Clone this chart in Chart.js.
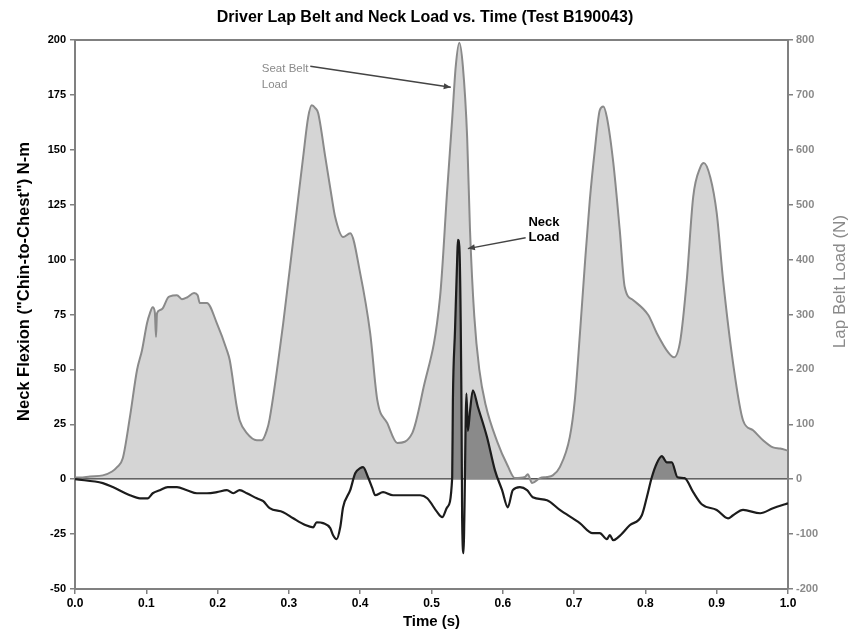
<!DOCTYPE html>
<html><head><meta charset="utf-8">
<script src="https://cdn.jsdelivr.net/npm/chart.js@4.4.1/dist/chart.umd.min.js"></script>
<style>html,body{margin:0;padding:0;background:#fff}#wrap{width:850px;height:637px}</style>
</head><body><div id="wrap"><canvas id="c" width="850" height="637"></canvas></div>
<script>
// ---- data ----
const tBelt = [0,0.007,0.021,0.039,0.052,0.059,0.067,0.077,0.087,0.094,0.101,0.105,0.109,0.112,0.1136,0.115,0.119,0.123,0.130,0.133,0.143,0.150,0.157,0.167,0.172,0.175,0.185,0.199,0.213,0.217,0.227,0.231,0.241,0.255,0.262,0.269,0.273,0.292,0.306,0.320,0.327,0.332,0.337,0.341,0.351,0.360,0.365,0.376,0.386,0.400,0.414,0.424,0.438,0.452,0.473,0.488,0.512,0.522,0.529,0.534,0.539,0.544,0.550,0.554,0.560,0.567,0.576,0.592,0.607,0.617,0.631,0.635,0.641,0.652,0.662,0.670,0.680,0.694,0.701,0.708,0.715,0.722,0.729,0.736,0.741,0.746,0.755,0.764,0.771,0.783,0.804,0.816,0.832,0.840,0.849,0.858,0.867,0.877,0.882,0.891,0.900,0.909,0.923,0.937,0.951,0.965,0.979,0.989,1.0];
const beltLoad = [3,3,5,7,14,22,38,113,199,235,284,302,313,304,259,302,308,311,330,333,335,328,331,339,335,321,321,284,235,217,131,107,84,71,71,89,110,284,435,587,659,681,676,667,587,514,477,441,448,375,266,144,102,66,84,162,332,526,656,752,795,752,623,454,297,200,135,69,24,2,4,9,-7,2,4,7,22,77,144,262,390,508,599,672,679,659,576,454,350,326,299,266,231,222,253,362,514,568,576,550,485,362,211,107,89,71,58,56,52];
const tNeck = [0,0.039,0.053,0.077,0.091,0.102,0.109,0.119,0.130,0.143,0.157,0.171,0.185,0.199,0.213,0.222,0.231,0.241,0.255,0.264,0.273,0.292,0.306,0.323,0.334,0.339,0.348,0.358,0.362,0.367,0.372,0.376,0.386,0.393,0.400,0.404,0.411,0.417,0.421,0.432,0.446,0.484,0.494,0.508,0.515,0.522,0.529,0.530,0.533,0.536,0.537,0.539,0.542,0.543,0.545,0.546,0.549,0.551,0.554,0.558,0.565,0.578,0.589,0.599,0.607,0.614,0.624,0.634,0.642,0.662,0.680,0.708,0.726,0.736,0.746,0.750,0.755,0.762,0.778,0.795,0.802,0.809,0.816,0.823,0.830,0.837,0.845,0.855,0.867,0.879,0.900,0.916,0.923,0.937,0.961,0.979,0.996,1.0];
const neckLoad = [0,-1.8,-3.6,-7.3,-8.7,-8.7,-6.4,-5.0,-3.6,-3.6,-5.0,-6.4,-6.4,-5.9,-5.0,-6.4,-5.0,-6.4,-8.7,-10,-13.2,-15,-17.8,-20.9,-21.9,-19.6,-20,-22.3,-25.5,-27.3,-21.9,-12.8,-5,2.7,5,5.5,0.9,-4.1,-7.3,-5.9,-7.3,-7.3,-8.7,-15,-17.3,-12.8,0.5,36,68,100,109,106,36,-19,-33.7,-19,39,22,31,40.5,33,19,4,-5,-12.8,-5,-3.6,-5,-8.2,-9.6,-14,-20,-24.6,-24.6,-27.3,-25.5,-27.8,-26.4,-21,-16.4,-8.2,0.9,7.3,10.5,7.7,7.7,0.9,0.5,-5.9,-11.4,-14,-17.8,-16.4,-14,-15.5,-13.2,-11.4,-11];
const xTickValues = [0,0.1,0.2,0.3,0.4,0.5,0.6,0.7,0.8,0.9,1.0];
const chartTitle = 'Driver Lap Belt and Neck Load vs. Time (Test B190043)';
const leftTitle = 'Neck Flexion ("Chin-to-Chest") N-m';
const rightTitle = 'Lap Belt Load (N)';
const xTitle = 'Time (s)';

const FONT = '"Liberation Sans", Arial, sans-serif';

const beltPts = tBelt.map((t,i)=>({x:t,y:beltLoad[i]}));
const neckPts = tNeck.map((t,i)=>({x:t,y:neckLoad[i]}));

const extras = {
  id:'extras',
  afterDraw(chart, args, opts){
    const {ctx, chartArea:a, scales} = chart;
    ctx.save();
    // top box line
    ctx.strokeStyle='#808080'; ctx.lineWidth=2;
    ctx.beginPath(); ctx.moveTo(a.left, a.top); ctx.lineTo(a.right, a.top); ctx.stroke();
    // axis titles
    ctx.textAlign='center'; ctx.textBaseline='middle';
    ctx.save();
    ctx.translate(opts.leftTitleX, a.top + a.height*opts.titleFrac);
    ctx.rotate(-Math.PI/2);
    ctx.fillStyle='#000'; ctx.font='bold 16.5px '+FONT;
    ctx.fillText(leftTitle,0,0);
    ctx.restore();
    ctx.save();
    ctx.translate(opts.rightTitleX, a.top + a.height*opts.titleFrac);
    ctx.rotate(-Math.PI/2);
    ctx.fillStyle='#8a8a8a'; ctx.font='17px '+FONT;
    ctx.fillText(rightTitle,0,0);
    ctx.restore();
    // notes
    const xs = scales.x;
    for (const n of opts.notes){
      const ys = scales[n.axis];
      ctx.fillStyle=n.color; ctx.font=n.font; ctx.textAlign='left'; ctx.textBaseline='middle';
      n.lines.forEach((l,i)=>{
        ctx.fillText(l, xs.getPixelForValue(n.x), ys.getPixelForValue(n.y[i]));
      });
      const x1=xs.getPixelForValue(n.from[0]), y1=ys.getPixelForValue(n.from[1]);
      const x2=xs.getPixelForValue(n.to[0]), y2=ys.getPixelForValue(n.to[1]);
      ctx.strokeStyle='#444'; ctx.lineWidth=1.5;
      ctx.beginPath(); ctx.moveTo(x1,y1); ctx.lineTo(x2,y2); ctx.stroke();
      const ang=Math.atan2(y2-y1,x2-x1), L=7, W=3;
      ctx.fillStyle='#444';
      ctx.beginPath(); ctx.moveTo(x2,y2);
      ctx.lineTo(x2-L*Math.cos(ang)+W*Math.sin(ang), y2-L*Math.sin(ang)-W*Math.cos(ang));
      ctx.lineTo(x2-L*Math.cos(ang)-W*Math.sin(ang), y2-L*Math.sin(ang)+W*Math.cos(ang));
      ctx.closePath(); ctx.fill();
    }
    ctx.restore();
  }
};

new Chart(document.getElementById('c'), {
  type:'line',
  data:{datasets:[
    {label:'Neck Load', data:neckPts, yAxisID:'y', order:0,
     borderColor:'#1c1c1c', borderWidth:2.2, pointRadius:0, cubicInterpolationMode:'monotone',
     backgroundColor:'#8a8a8a', fill:{target:'origin', above:'#8a8a8a', below:'rgba(0,0,0,0)'}},
    {label:'Seat Belt Load', data:beltPts, yAxisID:'y2', order:1,
     borderColor:'#8a8a8a', borderWidth:2, pointRadius:0, cubicInterpolationMode:'monotone',
     backgroundColor:'rgba(128,128,128,0.33)', fill:'origin'}
  ]},
  options:{
    responsive:false, animation:false, devicePixelRatio:1,
    layout:{padding:0},
    plugins:{
      legend:{display:false}, tooltip:{enabled:false},
      title:{display:true, text:chartTitle, color:'#000', font:{family:FONT, size:16, weight:'bold', lineHeight:1.2}, padding:{top:7.5, bottom:13.3}},
      extras:{
        leftTitleX:24, rightTitleX:840, titleFrac:0.44,
        notes:[
          {lines:['Seat Belt','Load'], x:0.262, y:[748,719], axis:'y2', color:'#8a8a8a', font:'11.5px '+FONT,
           from:[0.33,752], to:[0.527,714]},
          {lines:['Neck','Load'], x:0.636, y:[117,110], axis:'y', color:'#000', font:'bold 13px '+FONT,
           from:[0.632,110], to:[0.551,105]}
        ]
      }
    },
    scales:{
      x:{type:'linear', position:'bottom', min:0, max:1,
         afterBuildTicks:s=>{s.ticks = xTickValues.map(v=>({value:v}));},
         afterFit:s=>{s.height=48;},
         ticks:{callback:v=>Number(v).toFixed(1), color:'#000', font:{family:FONT, size:12, weight:'bold'}, padding:2, maxRotation:0, autoSkip:false},
         grid:{drawOnChartArea:false, drawTicks:true, tickLength:5, color:'#808080', lineWidth:1.5},
         border:{display:true, color:'#808080', width:2},
         title:{display:true, text:xTitle, color:'#000', font:{family:FONT, size:15, weight:'bold', lineHeight:1.2}, padding:{top:0,bottom:6}}
      },
      y:{type:'linear', position:'left', min:-50, max:200,
         afterFit:s=>{s.width=75;},
         ticks:{stepSize:25, color:'#000', font:{family:FONT, size:11, weight:'bold'}, padding:4},
         grid:{drawOnChartArea:true, drawTicks:true, tickLength:5, tickColor:'#808080',
               color:c=>c.tick && c.tick.value===0 ? '#555' : 'rgba(0,0,0,0)', lineWidth:1.5},
         border:{display:true, color:'#808080', width:2}
      },
      y2:{type:'linear', position:'right', min:-200, max:800,
         afterFit:s=>{s.width=62;},
         ticks:{stepSize:100, color:'#8a8a8a', font:{family:FONT, size:11, weight:'bold'}, padding:3},
         grid:{drawOnChartArea:false, drawTicks:true, tickLength:5, color:'#808080', lineWidth:1.5},
         border:{display:true, color:'#808080', width:2}
      }
    }
  },
  plugins:[extras]
});
</script></body></html>
